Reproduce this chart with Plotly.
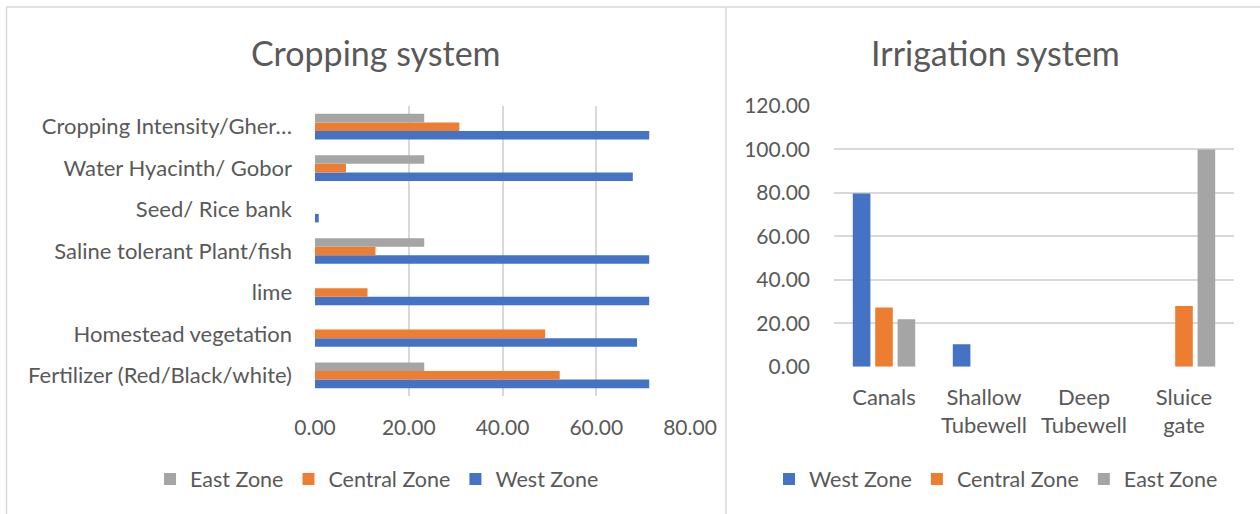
import plotly.graph_objects as go

W, H = 1260, 514

# Cropping system (horizontal bars), categories listed bottom to top
crop_categories = [
    "Fertilizer (Red/Black/white)",
    "Homestead vegetation",
    "lime",
    "Saline tolerant Plant/fish",
    "Seed/ Rice bank",
    "Water Hyacinth/ Gobor",
    "Cropping Intensity/Gher…",
]
crop_west = [71.3, 68.7, 71.3, 71.3, 0.8, 67.8, 71.3]
crop_central = [52.2, 49.1, 11.2, 12.9, 0.0, 6.6, 30.8]
crop_east = [23.3, 0.0, 0.0, 23.3, 0.0, 23.3, 23.3]
crop_ticks = [0, 20, 40, 60, 80]

# Irrigation system (vertical bars)
irr_categories = ["Canals", "Shallow<br>Tubewell", "Deep<br>Tubewell", "Sluice<br>gate"]
irr_west = [79.7, 10.3, 0.0, 0.0]
irr_central = [27.3, 0.0, 0.0, 27.9]
irr_east = [21.8, 0.0, 0.0, 100.0]
irr_ticks = [0, 20, 40, 60, 80, 100, 120]

zones = ["West Zone", "Central Zone", "East Zone"]
zone_colors = ["#4472C4", "#ED7D31", "#A5A5A5"]

FONT = "Lato"
TEXT = "#595959"
GRID = "#D9D9D9"


def px_x(v):
    return v / W


def px_y(v):
    return 1 - v / H


fig = go.Figure()

# left chart: three bars per category, edge to edge
slot = 0.207
for i, (name, vals) in enumerate(zip(zones, [crop_west, crop_central, crop_east])):
    fig.add_trace(go.Bar(
        x=vals, y=crop_categories, orientation="h", name=name,
        marker=dict(color=zone_colors[i], line=dict(width=0)),
        width=slot, offset=-1.5 * slot + i * slot,
        xaxis="x", yaxis="y", legend="legend",
    ))

# right chart: three bars per category with small gaps
bw, step = 0.176, 0.224
for i, (name, vals) in enumerate(zip(zones, [irr_west, irr_central, irr_east])):
    fig.add_trace(go.Bar(
        x=irr_categories, y=vals, name=name,
        marker=dict(color=zone_colors[i], line=dict(width=0)),
        width=bw, offset=-1.5 * step + (step - bw) / 2 + i * step,
        xaxis="x2", yaxis="y2", legend="legend2",
    ))

num_font = dict(family=FONT, size=21, color=TEXT)
cat_font = dict(family=FONT, size=22, color=TEXT)
legend_font = dict(family=FONT, size=21.5, color=TEXT)
title_font = dict(family=FONT, size=34, color=TEXT)

fig.update_layout(
    template="none",
    width=W, height=H, autosize=False,
    margin=dict(l=0, r=0, t=0, b=0, pad=0, autoexpand=False),
    paper_bgcolor="white", plot_bgcolor="white",
    barmode="overlay",
    showlegend=True,
    font=dict(family=FONT, color=TEXT),
    xaxis=dict(
        domain=[px_x(315), px_x(690)], range=[0, 80], automargin=False,
        tickvals=crop_ticks, ticktext=[f"{t:.2f}" for t in crop_ticks],
        showgrid=True, gridcolor=GRID, gridwidth=1.5,
        zeroline=False, showline=False, ticks="",
        tickfont=num_font, ticklabelstandoff=17, anchor="y",
    ),
    yaxis=dict(
        domain=[px_y(396), px_y(106)], type="category", automargin=False,
        range=[-0.5, len(crop_categories) - 0.5],
        showgrid=False, zeroline=False, showline=False, ticks="",
        tickfont=cat_font, ticklabelstandoff=22, anchor="x",
    ),
    xaxis2=dict(
        domain=[px_x(834), px_x(1234)], type="category", automargin=False,
        range=[-0.5, len(irr_categories) - 0.5],
        showgrid=False, zeroline=False, showline=False, ticks="",
        tickfont=cat_font, ticklabelstandoff=15, anchor="y2",
    ),
    yaxis2=dict(
        domain=[px_y(366.7), px_y(106)], range=[0, 120], automargin=False,
        tickvals=irr_ticks, ticktext=[f"{t:.2f}" for t in irr_ticks],
        showgrid=True, gridcolor=GRID, gridwidth=1.5,
        zeroline=False, showline=False, ticks="",
        tickfont=num_font, ticklabelstandoff=23, anchor="x2",
    ),
    legend=dict(
        orientation="h", traceorder="reversed",
        x=px_x(377), xanchor="center", y=px_y(479), yanchor="middle",
        font=legend_font, bgcolor="rgba(0,0,0,0)",
    ),
    legend2=dict(
        orientation="h", traceorder="normal",
        x=px_x(996), xanchor="center", y=px_y(479), yanchor="middle",
        font=legend_font, bgcolor="rgba(0,0,0,0)",
    ),
    annotations=[
        dict(text="Cropping system", x=px_x(376), y=px_y(53), xref="paper", yref="paper",
             showarrow=False, xanchor="center", yanchor="middle", font=title_font),
        dict(text="Irrigation system", x=px_x(995), y=px_y(53), xref="paper", yref="paper",
             showarrow=False, xanchor="center", yanchor="middle", font=title_font),
    ],
    shapes=[
        # chart frames
        dict(type="line", xref="paper", yref="paper", x0=px_x(6), x1=1, y0=px_y(7), y1=px_y(7),
             line=dict(color=GRID, width=1.5)),
        dict(type="line", xref="paper", yref="paper", x0=px_x(6.5), x1=px_x(6.5), y0=0, y1=px_y(7),
             line=dict(color=GRID, width=1.5)),
        dict(type="line", xref="paper", yref="paper", x0=px_x(726), x1=px_x(726), y0=0, y1=px_y(7),
             line=dict(color=GRID, width=1.5)),
    ],
)

fig.write_html("out.html")
